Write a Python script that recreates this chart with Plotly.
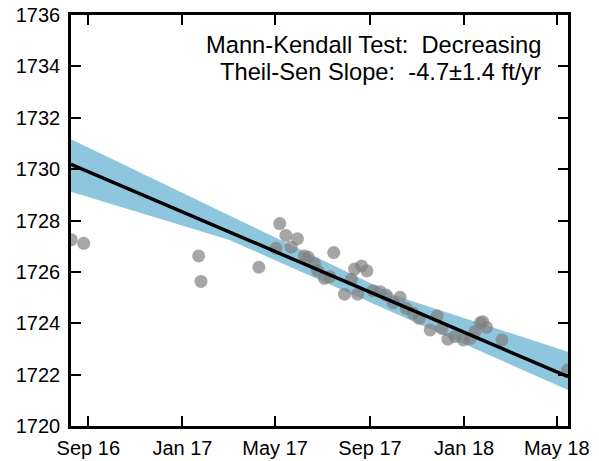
import plotly.graph_objects as go

# Observed groundwater elevations (ft)
obs_dates = ['2016-08-10', '2016-08-26', '2017-01-22', '2017-01-25', '2017-04-10',
             '2017-05-02', '2017-05-07', '2017-05-15', '2017-05-22', '2017-05-30',
             '2017-06-08', '2017-06-13', '2017-06-21', '2017-06-25', '2017-07-04',
             '2017-07-11', '2017-07-16', '2017-07-30', '2017-08-08', '2017-08-12',
             '2017-08-16', '2017-08-21', '2017-08-28', '2017-09-05', '2017-09-14',
             '2017-09-22', '2017-10-01', '2017-10-10', '2017-10-18', '2017-10-27',
             '2017-11-04', '2017-11-18', '2017-11-27', '2017-12-03', '2017-12-11',
             '2017-12-20', '2017-12-31', '2018-01-09', '2018-01-15', '2018-01-22',
             '2018-01-25', '2018-01-30', '2018-02-19', '2018-05-15']
obs_values = [1727.25, 1727.11, 1726.62, 1725.63, 1726.18,
              1726.92, 1727.88, 1727.42, 1726.96, 1727.29,
              1726.62, 1726.57, 1726.33, 1726.05, 1725.75,
              1725.81, 1726.75, 1725.13, 1725.71, 1726.11,
              1725.13, 1726.23, 1726.04, 1725.27, 1725.23,
              1725.10, 1724.80, 1725.01, 1724.58, 1724.39,
              1724.19, 1723.74, 1724.28, 1723.80, 1723.38,
              1723.48, 1723.35, 1723.41, 1723.67, 1724.02,
              1724.06, 1723.84, 1723.35, 1722.18]

# Theil-Sen trend line
trend_dates = ['2016-08-09 14:00', '2018-05-15 14:00']
trend_values = [1730.19, 1721.92]

# Confidence band edges
band_upper_dates = ['2016-08-09 14:00', '2017-03-10', '2017-10-09', '2018-05-15 14:00']
band_upper = [1731.16, 1728.09, 1725.02, 1722.89]
band_lower_dates = ['2016-08-09 14:00', '2017-03-03', '2018-05-15 14:00']
band_lower = [1729.12, 1727.24, 1721.40]

# Axis ticks
x_tick_dates = ['2016-09-01', '2017-01-01', '2017-05-01', '2017-09-01', '2018-01-01', '2018-05-01']
x_tick_labels = ['Sep 16', 'Jan 17', 'May 17', 'Sep 17', 'Jan 18', 'May 18']
y_ticks = [1720, 1722, 1724, 1726, 1728, 1730, 1732, 1734, 1736]

annotation_lines = ['Mann-Kendall Test:  Decreasing', 'Theil-Sen Slope:  -4.7\u00b11.4 ft/yr']

FONT = 'Liberation Sans, Arial, Helvetica, sans-serif'

fig = go.Figure()

fig.add_trace(go.Scatter(
    x=band_upper_dates + band_lower_dates[::-1],
    y=band_upper + band_lower[::-1],
    fill='toself', fillcolor='#8ec6de', mode='lines',
    line=dict(width=0, color='#8ec6de'), hoverinfo='skip', showlegend=False,
))

fig.add_trace(go.Scatter(
    x=obs_dates, y=obs_values, mode='markers',
    marker=dict(size=13, color='#808080', opacity=0.7, line=dict(width=0)),
    showlegend=False, cliponaxis=True,
))

fig.add_trace(go.Scatter(
    x=trend_dates, y=trend_values, mode='lines',
    line=dict(color='black', width=3.5), showlegend=False,
))

for i, txt in enumerate(annotation_lines):
    fig.add_annotation(
        text=txt, xref='paper', yref='paper', x=(543 - 71) / 497,
        y=1 - (45 + 27 * i - 15) / 411, xanchor='right', yanchor='middle',
        showarrow=False, font=dict(family=FONT, size=23.7, color='black'),
    )

fig.update_layout(
    width=599, height=461,
    margin=dict(l=71, r=31, t=15, b=35),
    plot_bgcolor='white', paper_bgcolor='white',
    font=dict(family=FONT, size=20, color='black'),
    showlegend=False,
)

fig.update_xaxes(
    range=['2016-08-09 14:00', '2018-05-15 14:00'],
    tickvals=x_tick_dates, ticktext=x_tick_labels,
    ticks='inside', ticklen=10, tickwidth=1.5, tickcolor='black',
    showline=True, linecolor='black', linewidth=2.5, mirror='ticks',
    showgrid=False, zeroline=False, automargin=False, ticklabelstandoff=2,
    tickfont=dict(family=FONT, size=20, color='black'),
)
fig.update_yaxes(
    range=[1720, 1736], tickvals=y_ticks,
    ticks='inside', ticklen=10, tickwidth=1.5, tickcolor='black',
    showline=True, linecolor='black', linewidth=2.5, mirror='ticks',
    showgrid=False, zeroline=False, automargin=False, ticklabelstandoff=4,
    tickfont=dict(family=FONT, size=20, color='black'),
)

fig.write_html('out.html', config={'displayModeBar': False},
               post_script="document.body.style.margin='0';document.body.style.padding='0';")
